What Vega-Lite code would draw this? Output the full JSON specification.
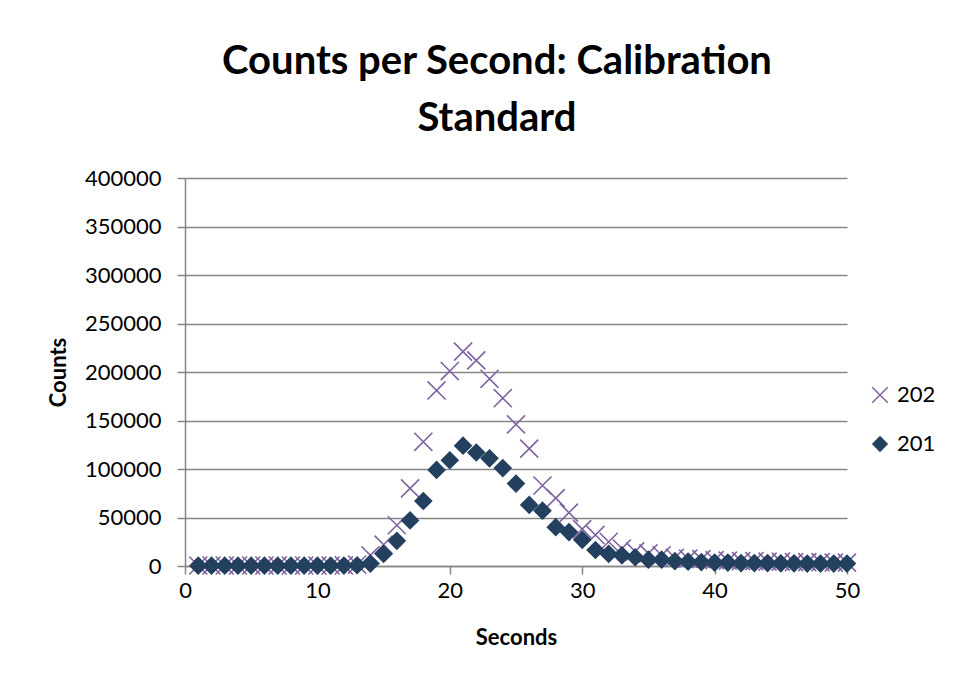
{
  "$schema": "https://vega.github.io/schema/vega-lite/v6.json",
  "autosize": "none",
  "width": 662,
  "height": 388,
  "padding": {"left": 185, "top": 178, "right": 131, "bottom": 118},
  "background": "white",
  "config": {
    "font": "Lato",
    "view": {"stroke": null},
    "axis": {"labelFont": "Lato", "titleFont": "Lato", "labelColor": "black", "titleColor": "black"}
  },
  "title": {
    "text": ["Counts per Second: Calibration", "Standard"],
    "font": "Lato",
    "fontSize": 40,
    "fontWeight": "bold",
    "color": "black",
    "anchor": "middle",
    "frame": "group",
    "lineHeight": 57,
    "offset": 28,
    "dx": -19
  },
  "data": {
    "values": [
      {"t": 1, "series": "202", "v": 500}, {"t": 2, "series": "202", "v": 500}, {"t": 3, "series": "202", "v": 500}, {"t": 4, "series": "202", "v": 500}, {"t": 5, "series": "202", "v": 500},
      {"t": 6, "series": "202", "v": 500}, {"t": 7, "series": "202", "v": 500}, {"t": 8, "series": "202", "v": 500}, {"t": 9, "series": "202", "v": 500}, {"t": 10, "series": "202", "v": 500},
      {"t": 11, "series": "202", "v": 500}, {"t": 12, "series": "202", "v": 600}, {"t": 13, "series": "202", "v": 1500}, {"t": 14, "series": "202", "v": 11000}, {"t": 15, "series": "202", "v": 22000},
      {"t": 16, "series": "202", "v": 42000}, {"t": 17, "series": "202", "v": 80000}, {"t": 18, "series": "202", "v": 128000}, {"t": 19, "series": "202", "v": 181000}, {"t": 20, "series": "202", "v": 201000},
      {"t": 21, "series": "202", "v": 221000}, {"t": 22, "series": "202", "v": 212000}, {"t": 23, "series": "202", "v": 193000}, {"t": 24, "series": "202", "v": 173000}, {"t": 25, "series": "202", "v": 146000},
      {"t": 26, "series": "202", "v": 121000}, {"t": 27, "series": "202", "v": 83000}, {"t": 28, "series": "202", "v": 70000}, {"t": 29, "series": "202", "v": 55000}, {"t": 30, "series": "202", "v": 38000},
      {"t": 31, "series": "202", "v": 32000}, {"t": 32, "series": "202", "v": 25000}, {"t": 33, "series": "202", "v": 18000}, {"t": 34, "series": "202", "v": 15000}, {"t": 35, "series": "202", "v": 13000},
      {"t": 36, "series": "202", "v": 11000}, {"t": 37, "series": "202", "v": 8500}, {"t": 38, "series": "202", "v": 7500}, {"t": 39, "series": "202", "v": 7000}, {"t": 40, "series": "202", "v": 6000},
      {"t": 41, "series": "202", "v": 5500}, {"t": 42, "series": "202", "v": 5000}, {"t": 43, "series": "202", "v": 5000}, {"t": 44, "series": "202", "v": 4500}, {"t": 45, "series": "202", "v": 4500},
      {"t": 46, "series": "202", "v": 4000}, {"t": 47, "series": "202", "v": 4000}, {"t": 48, "series": "202", "v": 4000}, {"t": 49, "series": "202", "v": 3500}, {"t": 50, "series": "202", "v": 3500},
      {"t": 1, "series": "201", "v": 300}, {"t": 2, "series": "201", "v": 300}, {"t": 3, "series": "201", "v": 300}, {"t": 4, "series": "201", "v": 300}, {"t": 5, "series": "201", "v": 300},
      {"t": 6, "series": "201", "v": 300}, {"t": 7, "series": "201", "v": 300}, {"t": 8, "series": "201", "v": 300}, {"t": 9, "series": "201", "v": 300}, {"t": 10, "series": "201", "v": 300},
      {"t": 11, "series": "201", "v": 300}, {"t": 12, "series": "201", "v": 400}, {"t": 13, "series": "201", "v": 800}, {"t": 14, "series": "201", "v": 2500}, {"t": 15, "series": "201", "v": 12500},
      {"t": 16, "series": "201", "v": 26000}, {"t": 17, "series": "201", "v": 47000}, {"t": 18, "series": "201", "v": 67000}, {"t": 19, "series": "201", "v": 99000}, {"t": 20, "series": "201", "v": 109000},
      {"t": 21, "series": "201", "v": 124000}, {"t": 22, "series": "201", "v": 117000}, {"t": 23, "series": "201", "v": 111000}, {"t": 24, "series": "201", "v": 101000}, {"t": 25, "series": "201", "v": 85000},
      {"t": 26, "series": "201", "v": 63000}, {"t": 27, "series": "201", "v": 57000}, {"t": 28, "series": "201", "v": 40000}, {"t": 29, "series": "201", "v": 35000}, {"t": 30, "series": "201", "v": 27000},
      {"t": 31, "series": "201", "v": 16500}, {"t": 32, "series": "201", "v": 12500}, {"t": 33, "series": "201", "v": 11000}, {"t": 34, "series": "201", "v": 9000}, {"t": 35, "series": "201", "v": 6500},
      {"t": 36, "series": "201", "v": 6500}, {"t": 37, "series": "201", "v": 5000}, {"t": 38, "series": "201", "v": 4500}, {"t": 39, "series": "201", "v": 4000}, {"t": 40, "series": "201", "v": 3500},
      {"t": 41, "series": "201", "v": 3500}, {"t": 42, "series": "201", "v": 3000}, {"t": 43, "series": "201", "v": 3000}, {"t": 44, "series": "201", "v": 3000}, {"t": 45, "series": "201", "v": 2800},
      {"t": 46, "series": "201", "v": 2800}, {"t": 47, "series": "201", "v": 2500}, {"t": 48, "series": "201", "v": 2500}, {"t": 49, "series": "201", "v": 2500}, {"t": 50, "series": "201", "v": 2500}
    ]
  },
  "mark": {"type": "point", "filled": true, "size": 270, "strokeWidth": 1.6, "opacity": 1},
  "encoding": {
    "x": {
      "field": "t", "type": "quantitative",
      "scale": {"domain": [0, 50], "nice": false, "zero": false},
      "axis": {
        "title": "Seconds", "titleFontSize": 22, "titleFontWeight": "bold", "titlePadding": 26,
        "values": [0, 10, 20, 30, 40, 50], "labelFontSize": 22, "labelPadding": 6,
        "tickSize": 8, "tickColor": "#868686", "tickWidth": 1.5,
        "domainColor": "#868686", "domainWidth": 1.5, "grid": false, "labelFlush": false
      }
    },
    "y": {
      "field": "v", "type": "quantitative",
      "scale": {"domain": [0, 400000], "nice": false},
      "axis": {
        "title": "Counts", "titleFontSize": 22, "titleFontWeight": "bold", "titlePadding": 14,
        "values": [0, 50000, 100000, 150000, 200000, 250000, 300000, 350000, 400000],
        "format": "d", "labelFontSize": 22, "labelPadding": 16,
        "tickSize": 8, "tickColor": "#868686", "tickWidth": 1.5,
        "domainColor": "#868686", "domainWidth": 1.5,
        "grid": true, "gridColor": "#868686", "gridWidth": 1.5
      }
    },
    "shape": {
      "field": "series", "type": "nominal",
      "scale": {"domain": ["202", "201"], "range": ["M-1.1,-1.1L1.1,1.1M-1.1,1.1L1.1,-1.1", "diamond"]},
      "legend": {
        "title": null, "orient": "none", "legendX": 684, "legendY": 206,
        "labelFontSize": 22, "labelFont": "Lato", "labelColor": "black",
        "symbolSize": 200, "rowPadding": 27, "labelOffset": 6, "padding": 0
      }
    },
    "fill": {
      "field": "series", "type": "nominal",
      "scale": {"domain": ["202", "201"], "range": ["#8064A2", "#24405F"]}
    },
    "stroke": {
      "field": "series", "type": "nominal",
      "scale": {"domain": ["202", "201"], "range": ["#8064A2", "#24405F"]}
    }
  }
}
